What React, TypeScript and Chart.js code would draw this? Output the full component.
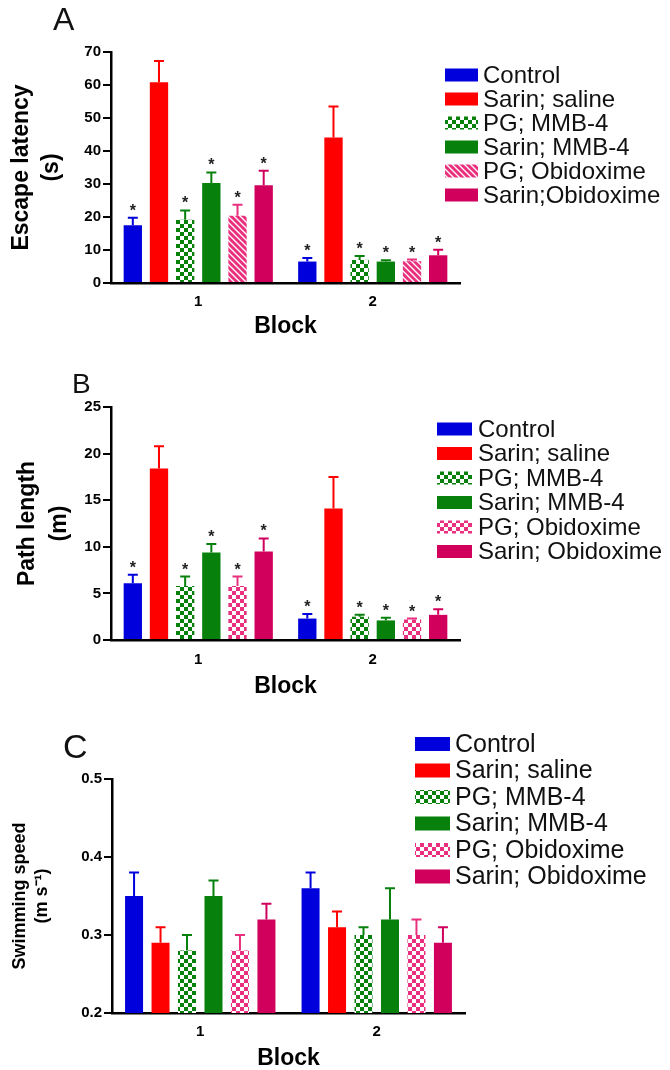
import React, { useEffect, useRef } from 'react';
import { Chart, registerables } from 'chart.js';

Chart.register(...registerables);
Chart.defaults.font.family = '"Liberation Sans", Arial, sans-serif';

// ---------- data ----------
const blocks = ['1', '2'];
const groupsA = ['Control', 'Sarin; saline', 'PG; MMB-4', 'Sarin; MMB-4', 'PG; Obidoxime', 'Sarin;Obidoxime'];
const groupsBC = ['Control', 'Sarin; saline', 'PG; MMB-4', 'Sarin; MMB-4', 'PG; Obidoxime', 'Sarin; Obidoxime'];

// Escape latency (s): [block1, block2] per group
const latencyMean = [[17.5, 6.5], [60.8, 44.1], [19.2, 7.0], [30.3, 6.5], [20.4, 6.6], [29.6, 8.4]];
const latencySem = [[2.3, 1.1], [6.5, 9.4], [2.8, 1.2], [3.2, 0.4], [3.3, 0.5], [4.4, 1.7]];
const latencySig = [[true, true], [false, false], [true, true], [true, true], [true, true], [true, true]];
const latencyTicks = [0, 10, 20, 30, 40, 50, 60, 70];

// Path length (m)
const pathMean = [[6.1, 2.3], [18.4, 14.1], [5.8, 2.5], [9.4, 2.1], [5.8, 2.2], [9.5, 2.7]];
const pathSem = [[0.9, 0.5], [2.4, 3.4], [1.0, 0.2], [0.9, 0.3], [1.0, 0.1], [1.4, 0.6]];
const pathSig = [[true, true], [false, false], [true, true], [true, true], [true, true], [true, true]];
const pathTicks = [0, 5, 10, 15, 20, 25];

// Swimming speed (m/s)
const speedMean = [[0.35, 0.36], [0.29, 0.31], [0.28, 0.30], [0.35, 0.32], [0.28, 0.30], [0.32, 0.29]];
const speedSem = [[0.03, 0.02], [0.02, 0.02], [0.02, 0.01], [0.02, 0.04], [0.02, 0.02], [0.02, 0.02]];
const speedTicks = [0.2, 0.3, 0.4, 0.5];

// ---------- styles ----------
const BLUE = '#0000dd';
const RED = '#ff0000';
const GREEN = '#07800c';
const PINK = '#e8307e';
const MAGENTA = '#d0005c';
const solidColors = [BLUE, RED, GREEN, GREEN, PINK, MAGENTA];

function makeCheck(fg: string) {
  const c = document.createElement('canvas');
  c.width = 8; c.height = 8;
  const g = c.getContext('2d')!;
  g.fillStyle = fg; g.fillRect(0, 0, 8, 8);
  g.fillStyle = '#fff'; g.fillRect(0, 0, 4, 4); g.fillRect(4, 4, 4, 4);
  return g.createPattern(c, 'repeat')!;
}
function makeHatch(fg: string) {
  const s = 6;
  const c = document.createElement('canvas');
  c.width = s; c.height = s;
  const g = c.getContext('2d')!;
  g.fillStyle = fg; g.fillRect(0, 0, s, s);
  g.strokeStyle = '#fff'; g.lineWidth = 1.3;
  g.beginPath();
  g.moveTo(-1, -1); g.lineTo(s + 1, s + 1);
  g.moveTo(-1, s - 1); g.lineTo(1, s + 1);
  g.moveTo(s - 1, -1); g.lineTo(s + 1, 1);
  g.stroke();
  return g.createPattern(c, 'repeat')!;
}

const decoPlugin = {
  id: 'deco',
  afterDatasetsDraw(chart: any, _a: any, o: any) {
    const ctx = chart.ctx as CanvasRenderingContext2D;
    const ys = chart.scales.y;
    ctx.save();
    chart.data.datasets.forEach((ds: any, i: number) => {
      const meta = chart.getDatasetMeta(i);
      meta.data.forEach((bar: any, j: number) => {
        const v = ds.data[j];
        const e = o.errors[i][j];
        const y0 = ys.getPixelForValue(v);
        const y1 = ys.getPixelForValue(v + e);
        ctx.strokeStyle = solidColors[i];
        ctx.lineWidth = 2;
        ctx.beginPath();
        ctx.moveTo(bar.x, y0); ctx.lineTo(bar.x, y1);
        ctx.moveTo(bar.x - 5, y1); ctx.lineTo(bar.x + 5, y1);
        ctx.stroke();
        if (o.sig && o.sig[i][j]) {
          ctx.fillStyle = '#222';
          ctx.font = 'bold 16px "Liberation Sans", Arial, sans-serif';
          ctx.textAlign = 'center';
          ctx.textBaseline = 'alphabetic';
          ctx.fillText('*', bar.x, y1 - 11 + 9);
        }
      });
    });
    // legend
    const L = o.legend;
    ctx.font = `${L.size}px "Liberation Sans", Arial, sans-serif`;
    ctx.textAlign = 'left';
    ctx.textBaseline = 'middle';
    chart.data.datasets.forEach((ds: any, i: number) => {
      const cy = L.y + i * L.dy;
      ctx.fillStyle = ds.backgroundColor;
      ctx.fillRect(L.x, cy - L.h / 2, L.w, L.h);
      ctx.fillStyle = '#111';
      ctx.fillText(ds.label, L.textX, cy + 1);
    });
    // panel letter
    const P = o.letter;
    ctx.font = `${P.size}px "Liberation Sans", Arial, sans-serif`;
    ctx.textBaseline = 'alphabetic';
    ctx.fillStyle = '#111';
    ctx.fillText(P.text, P.x, P.y);
    ctx.restore();
  },
};

function buildChart(canvas: HTMLCanvasElement, p: any) {
  const datasets = p.labels.map((label: string, i: number) => ({
    label,
    data: p.means[i],
    backgroundColor: p.fills[i],
    borderWidth: 0,
    barPercentage: p.barPct,
    categoryPercentage: 0.9,
  }));
  return new Chart(canvas, {
    type: 'bar',
    data: { labels: blocks, datasets },
    options: {
      animation: false,
      responsive: false,
      maintainAspectRatio: false,
      layout: { padding: { top: p.area.top, right: 670 - p.area.right, left: 0, bottom: 0 } },
      plugins: {
        legend: { display: false },
        tooltip: { enabled: false },
        deco: { errors: p.errors, sig: p.sig, legend: p.legend, letter: p.letter },
      } as any,
      scales: {
        x: {
          grid: { display: false, drawTicks: false },
          border: { display: true, color: '#000', width: 2.5 },
          ticks: { padding: p.xTickPad, color: '#000', font: { size: 15, weight: 'bold' } },
          title: {
            display: true, text: 'Block', color: '#000',
            font: { size: 23, weight: 'bold', lineHeight: 1 },
            padding: { top: 0, bottom: p.xTitlePad },
          },
          afterFit: (s: any) => { s.height = p.height - p.area.bottom; },
        },
        y: {
          min: p.ticks[0],
          max: p.ticks[p.ticks.length - 1],
          afterBuildTicks: (s: any) => { s.ticks = p.ticks.map((v: number) => ({ value: v })); },
          ticks: {
            padding: 2, color: '#000', font: { size: 15, weight: 'bold' },
            callback: (v: any) => p.fmt(Number(v)),
          },
          grid: { display: true, drawOnChartArea: false, drawTicks: true, tickLength: 8, color: '#000', lineWidth: 2 },
          border: { display: true, color: '#000', width: 2.5 },
          title: {
            display: true, text: p.yTitle, color: '#000',
            font: { size: p.yTitleSize, weight: 'bold', lineHeight: p.yTitleLH },
            padding: { top: p.yTitlePad, bottom: 0 },
          },
          afterFit: (s: any) => { s.width = p.area.left; },
        },
      },
    } as any,
    plugins: [decoPlugin as any],
  });
}

export default function App() {
  const refA = useRef<HTMLCanvasElement>(null);
  const refB = useRef<HTMLCanvasElement>(null);
  const refC = useRef<HTMLCanvasElement>(null);

  useEffect(() => {
    document.body.style.margin = '0';
    document.body.style.overflow = 'hidden';
    const fillsA = [BLUE, RED, makeCheck(GREEN), GREEN, makeHatch(PINK), MAGENTA];
    const fillsBC = [BLUE, RED, makeCheck(GREEN), GREEN, makeCheck(PINK), MAGENTA];
    const charts = [
      buildChart(refA.current!, {
        labels: groupsA, means: latencyMean, errors: latencySem, sig: latencySig, fills: fillsA,
        ticks: latencyTicks, fmt: (v: number) => String(v), barPct: 0.7,
        height: 355, area: { left: 111, right: 460, top: 52, bottom: 283 },
        xTickPad: 10, xTitlePad: 17,
        yTitle: ['Escape latency', '(s)'], yTitleSize: 23, yTitleLH: 1.3, yTitlePad: 7,
        legend: { x: 445, y: 75, dy: 24, w: 33, h: 13, textX: 483, size: 24 },
        letter: { text: 'A', x: 53, y: 30, size: 32 },
      }),
      buildChart(refB.current!, {
        labels: groupsBC, means: pathMean, errors: pathSem, sig: pathSig, fills: fillsBC,
        ticks: pathTicks, fmt: (v: number) => String(v), barPct: 0.7,
        height: 360, area: { left: 111, right: 460, top: 52, bottom: 285 },
        xTickPad: 11, xTitlePad: 17,
        yTitle: ['Path length', '(m)'], yTitleSize: 23, yTitleLH: 1.39, yTitlePad: 12,
        legend: { x: 437, y: 74, dy: 24.5, w: 35, h: 13, textX: 478, size: 24 },
        letter: { text: 'B', x: 72, y: 38, size: 28 },
      }),
      buildChart(refC.current!, {
        labels: groupsBC, means: speedMean, errors: speedSem, sig: null, fills: fillsBC,
        ticks: speedTicks, fmt: (v: number) => v.toFixed(1), barPct: 0.68,
        height: 355, area: { left: 112, right: 465, top: 64, bottom: 298 },
        xTickPad: 10, xTitlePad: 0,
        yTitle: ['Swimming speed', '(m s\u207B\u00B9)'], yTitleSize: 18, yTitleLH: 1.22, yTitlePad: 9,
        legend: { x: 415, y: 29, dy: 26.5, w: 35, h: 14, textX: 455, size: 25 },
        letter: { text: 'C', x: 63, y: 43, size: 34 },
      }),
    ];
    return () => charts.forEach((c) => c.destroy());
  }, []);

  const cs = (top: number): React.CSSProperties => ({ position: 'absolute', left: 0, top, display: 'block' });
  return (
    <div style={{ position: 'relative', width: 670, height: 1070, overflow: 'hidden', background: '#fff' }}>
      <canvas ref={refA} width={670} height={355} style={cs(0)} />
      <canvas ref={refB} width={670} height={360} style={cs(355)} />
      <canvas ref={refC} width={670} height={355} style={cs(715)} />
    </div>
  );
}
